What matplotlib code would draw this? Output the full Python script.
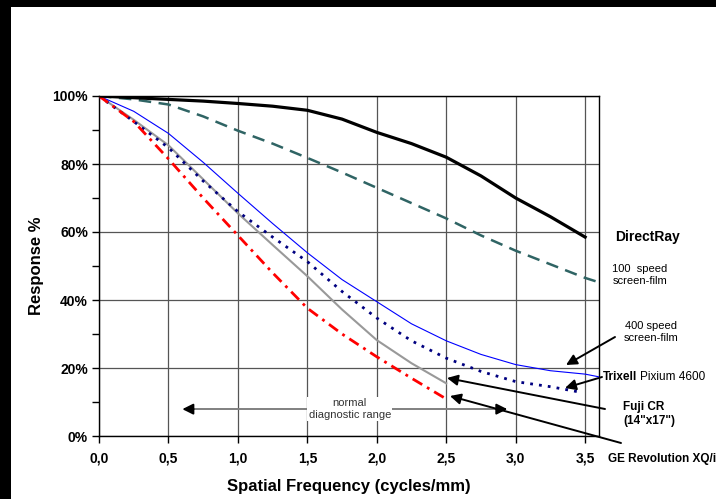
import numpy as np
import matplotlib
matplotlib.use('Agg')
import matplotlib.pyplot as plt
from matplotlib.patches import Rectangle
from matplotlib.ticker import MultipleLocator, FuncFormatter
from matplotlib.transforms import offset_copy

# MTF curves
freq = [0.0, 0.25, 0.5, 0.75, 1.0, 1.25, 1.5, 1.75, 2.0, 2.25, 2.5, 2.75, 3.0, 3.25, 3.5]
freq_long = freq + [3.6]
freq_short = freq[:11]
freq_trixell = freq[:14] + [3.45]

directray = [1.00, 0.995, 0.99, 0.985, 0.978, 0.97, 0.958, 0.932, 0.893, 0.86, 0.82, 0.765, 0.70, 0.645, 0.585]
film_100 = [1.00, 0.99, 0.975, 0.94, 0.898, 0.86, 0.818, 0.775, 0.73, 0.685, 0.64, 0.59, 0.545, 0.505, 0.465, 0.452]
film_400 = [1.00, 0.955, 0.89, 0.805, 0.714, 0.625, 0.539, 0.46, 0.395, 0.33, 0.28, 0.24, 0.21, 0.192, 0.182, 0.174]
trixell = [1.00, 0.925, 0.848, 0.75, 0.66, 0.585, 0.513, 0.425, 0.347, 0.28, 0.229, 0.19, 0.16, 0.145, 0.13]
fuji_cr = [1.00, 0.93, 0.855, 0.755, 0.655, 0.562, 0.47, 0.372, 0.282, 0.214, 0.155]
ge_rev = [1.00, 0.925, 0.815, 0.70, 0.59, 0.48, 0.376, 0.30, 0.233, 0.17, 0.109]

x_ticks = [0.0, 0.5, 1.0, 1.5, 2.0, 2.5, 3.0, 3.5]

W, H = 716, 499
narrow = ['Liberation Sans Narrow', 'Liberation Sans', 'DejaVu Sans']
plain = ['Liberation Sans', 'DejaVu Sans']


def fp(x, y):
    # pixel position measured from the top-left -> figure pixels
    return (x, H - y)


def ff(x, y):
    # pixel position measured from the top-left -> figure fraction
    return (x / W, 1 - y / H)


fig = plt.figure(figsize=(W / 100, H / 100), dpi=100)
fig.patch.set_facecolor('black')
fig.add_artist(Rectangle((11 / W, 0), 1, 1 - 7 / H, transform=fig.transFigure,
                         facecolor='white', edgecolor='none', zorder=-1))

ax = fig.add_axes([99 / W, 1 - 436 / H, 500 / W, 340 / H])
ax.set_facecolor('white')

ax.plot(freq, directray, color='black', lw=2.3, zorder=5)
ax.plot(freq_long, film_100, color='#2F6464', lw=1.8, dashes=(5, 3), zorder=4)
ax.plot(freq_long, film_400, color='#0000FF', lw=0.8, zorder=4)
ax.plot(freq_trixell, trixell, color='#000080', lw=2.0, dashes=(1, 2.2), zorder=4)
ax.plot(freq_short, fuji_cr, color='#999999', lw=1.5, zorder=3)
ax.plot(freq_short, ge_rev, color='#FF0000', lw=2.0, dashes=(4, 2, 1, 2), zorder=4)

ax.set_xlim(0, 3.6)
ax.set_ylim(0, 1)
ax.set_xticks(x_ticks)
ax.xaxis.set_major_formatter(FuncFormatter(lambda v, p: f'{v:.1f}'.replace('.', ',')))
ax.yaxis.set_major_locator(MultipleLocator(0.2))
ax.yaxis.set_minor_locator(MultipleLocator(0.1))
ax.yaxis.set_major_formatter(FuncFormatter(lambda v, p: f'{v * 100:.0f}%'))
ax.tick_params(axis='x', which='major', direction='out', length=5, width=1, color='black', pad=6)
ax.tick_params(axis='y', which='both', direction='out', length=5, width=1, color='black', pad=3)
for lab in ax.get_xticklabels() + ax.get_yticklabels():
    lab.set_family(narrow)
    lab.set_fontweight('bold')
    lab.set_fontsize(10)
ax.grid(True, which='major', color='#555555', lw=0.9)
ax.set_axisbelow(True)
for s in ax.spines.values():
    s.set_color('black')
    s.set_linewidth(1.0)

ax.set_xlabel('Spatial Frequency (cycles/mm)', family=narrow, fontweight='bold', fontsize=12, labelpad=10)
ax.set_ylabel('Response %', family=narrow, fontweight='bold', fontsize=12, labelpad=6)

# curve labels
fig.text(*ff(615, 237), 'DirectRay', family=plain, fontweight='bold', fontsize=10, va='center')
fig.text(*ff(640, 275), '100  speed\nscreen-film', family=plain, fontsize=8, ha='center', va='center', linespacing=1.2)
fig.text(*ff(651, 332), '400 speed\nscreen-film', family=plain, fontsize=8, ha='center', va='center', linespacing=1.2)
t = fig.text(*ff(603, 377), 'Trixell', family=plain, fontweight='bold', fontsize=8.5, va='center')
renderer = fig.canvas.get_renderer()
tb = t.get_window_extent(renderer)
fig.text(tb.x1 + 3, tb.y0, 'Pixium 4600', family=plain, fontsize=8.5, va='bottom',
         transform=None)
fig.text(*ff(623, 414), 'Fuji CR\n(14"x17")', family=plain, fontweight='bold', fontsize=8.5, va='center', linespacing=1.3)
fig.text(*ff(608, 459), 'GE Revolution XQ/i', family=plain, fontweight='bold', fontsize=8.5, va='center')

arrow = dict(arrowstyle='-|>', color='black', lw=1.4, mutation_scale=16, shrinkA=0, shrinkB=0)
for tail, head in [((615, 337), (566, 365)),
                   ((602, 377), (565, 388)),
                   ((605, 409), (447, 378)),
                   ((621, 443), (450, 396))]:
    ax.annotate('', xy=fp(*head), xycoords='figure pixels', xytext=fp(*tail),
                textcoords='figure pixels', arrowprops=arrow, annotation_clip=False)

# normal diagnostic range
rng_y = 0.079
ax.plot([0.62, 2.92], [rng_y, rng_y], color='#808080', lw=1.4, zorder=2)
ax.annotate('', xy=(0.60, rng_y), xytext=(0.68, rng_y), arrowprops=arrow)
ax.annotate('', xy=(2.94, rng_y), xytext=(2.86, rng_y), arrowprops=arrow)
ax.text(1.806, rng_y, 'normal\ndiagnostic range', family=plain, fontsize=8, color='#333333',
        ha='center', va='center', linespacing=1.25,
        bbox=dict(facecolor='white', edgecolor='none', pad=1), zorder=3)

fig.savefig('out.png', dpi=100, facecolor=fig.get_facecolor())
